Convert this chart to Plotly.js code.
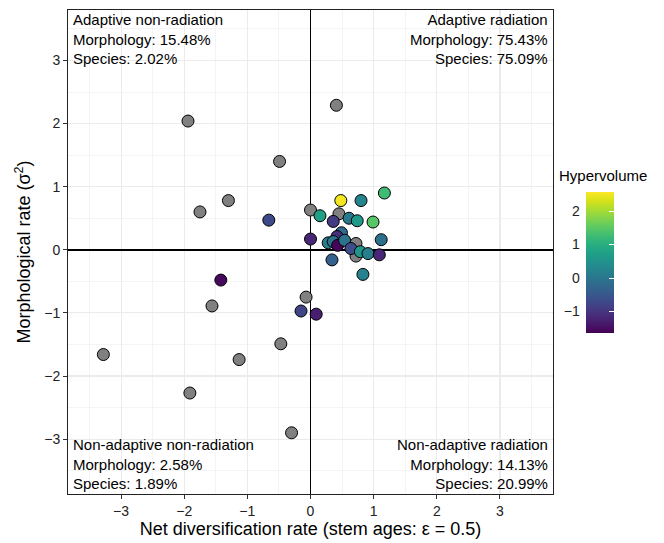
<!DOCTYPE html>
<html><head><meta charset="utf-8">
<script src="https://cdn.plot.ly/plotly-3.0.1.min.js"></script>
<style>html,body{margin:0;padding:0;background:#fff}</style>
</head><body><div id="chart" style="width:664px;height:543px"></div>
<script>
// Species without hypervolume (grey)
const grayX = [-1.94, 0.41, -0.49, -1.30, -1.75, 0.00, 0.45, 0.72, 0.72, -1.56, -0.07, -0.47, -1.13, -3.28, -1.91, -0.30];
const grayY = [2.04, 2.29, 1.40, 0.78, 0.60, 0.63, 0.57, 0.10, -0.10, -0.89, -0.75, -1.49, -1.74, -1.66, -2.27, -2.90];
// Species with hypervolume (coloured)
const colX = [0.48, 0.80, 1.17, -0.66, 0.00, 0.15, 0.36, 0.61, 0.74, 0.99, 1.12, 0.34, 0.83, 0.49, 0.42, 0.28, 0.36, 0.43, 0.54, 0.64, 0.79, 0.91, 1.09, -1.42, -0.15, 0.09];
const colY = [0.78, 0.78, 0.90, 0.47, 0.17, 0.54, 0.45, 0.50, 0.46, 0.44, 0.16, -0.16, -0.39, 0.27, 0.21, 0.11, 0.13, 0.07, 0.15, 0.02, -0.03, -0.06, -0.08, -0.48, -0.97, -1.02];
const colHV = [2.50, 0.25, 1.25, -0.72, -1.20, 0.70, -0.93, 0.05, 0.60, 1.45, -0.10, -0.35, 0.20, -0.20, -1.10, 0.15, -0.05, -1.60, -0.05, -0.65, 0.55, 0.15, -1.20, -1.55, -0.80, -1.30];

const axisTicks = [-3, -2, -1, 0, 1, 2, 3];
const cbTicks = [-1, 0, 1, 2];
const cbRange = [-1.65, 2.56];

const quadNames = ["Adaptive non-radiation", "Adaptive radiation", "Non-adaptive non-radiation", "Non-adaptive radiation"];
const quadMorph = ["15.48%", "75.43%", "2.58%", "14.13%"];
const quadSpecies = ["2.02%", "75.09%", "1.89%", "20.99%"];

const FONT = "Liberation Sans, Arial, Helvetica, sans-serif";
const W = 664, H = 543, ML = 68, MT = 10, MB = 49;
const plotW = W - ML;           // margin r = 0
const mainRight = 553;
const xDom = (mainRight - ML) / plotW;
const cbLeft = (585.7 - ML) / plotW;
const cbThick = 28;
const cbLenPx = 141;
const plotH = H - MT - MB;
const cbBottom = (494 - 333.3) / plotH;
const cbTop = cbBottom + cbLenPx / plotH;

const traces = [
  {
    type: 'scatter', mode: 'markers', x: grayX, y: grayY,
    marker: {size: 12, color: '#808080', line: {color: '#000', width: 1}},
    showlegend: false, hoverinfo: 'x+y'
  },
  {
    type: 'scatter', mode: 'markers', x: colX, y: colY,
    marker: {
      size: 12, color: colHV, colorscale: 'Viridis', cmin: cbRange[0], cmax: cbRange[1],
      line: {color: '#000', width: 1},
      showscale: true,
      colorbar: {
        x: cbLeft, xanchor: 'left', xpad: 0, thickness: cbThick,
        lenmode: 'pixels', len: cbLenPx, y: cbBottom, yanchor: 'bottom', ypad: 0,
        outlinewidth: 0, tickmode: 'array', tickvals: cbTicks,
        ticks: 'inside', ticklen: 5, tickcolor: '#fff', tickwidth: 1,
        showticklabels: false
      }
    },
    showlegend: false
  },
  {
    type: 'scatter', mode: 'markers', x: [null], y: [null], xaxis: 'x2', yaxis: 'y2',
    showlegend: false, hoverinfo: 'skip'
  }
];

const annotations = [];
quadNames.forEach((name, i) => {
  const right = (i % 2 === 1);
  const top = (i < 2);
  annotations.push({
    xref: 'x domain', yref: 'y domain',
    x: right ? 1 : 0, y: top ? 1 : 0,
    xanchor: right ? 'right' : 'left', yanchor: top ? 'top' : 'bottom',
    xshift: right ? -3 : 3, yshift: top ? 1 : 0,
    align: right ? 'right' : 'left', showarrow: false,
    text: name + '<br>Morphology: ' + quadMorph[i] + '<br>Species: ' + quadSpecies[i],
    font: {family: FONT, size: 15, color: '#000'}
  });
});
annotations.push({
  xref: 'paper', yref: 'paper', x: (556.5 - ML) / plotW, y: (494 - 176) / plotH,
  xanchor: 'left', yanchor: 'middle', showarrow: false,
  text: 'Hypervolume', font: {family: FONT, size: 15, color: '#000'}
});

const layout = {
  width: W, height: H,
  margin: {l: ML, r: 0, t: MT, b: MB, pad: 0},
  paper_bgcolor: '#fff', plot_bgcolor: '#fff',
  font: {family: FONT, color: '#000'},
  xaxis: {
    domain: [0, xDom], range: [-3.84, 3.84],
    tickmode: 'array', tickvals: axisTicks,
    ticks: 'outside', ticklen: 4, tickcolor: '#333', tickwidth: 1,
    tickfont: {family: FONT, size: 14, color: '#222'},
    showgrid: true, gridcolor: '#ebebeb', gridwidth: 1.1,
    minor: {dtick: 0.5, tick0: 0, showgrid: true, gridcolor: '#ececec', gridwidth: 0.6, ticks: ''},
    zeroline: true, zerolinecolor: '#000', zerolinewidth: 1.5,
    showline: true, linecolor: '#222', linewidth: 1, mirror: true,
    title: {text: 'Net diversification rate (stem ages: ε = 0.5)', font: {family: FONT, size: 18, color: '#000'}, standoff: 4}
  },
  yaxis: {
    range: [-3.87, 3.80],
    tickmode: 'array', tickvals: axisTicks,
    ticks: 'outside', ticklen: 4, tickcolor: '#333', tickwidth: 1,
    tickfont: {family: FONT, size: 14, color: '#222'},
    showgrid: true, gridcolor: '#ebebeb', gridwidth: 1.1,
    minor: {dtick: 0.5, tick0: 0, showgrid: true, gridcolor: '#ececec', gridwidth: 0.6, ticks: ''},
    zeroline: true, zerolinecolor: '#000', zerolinewidth: 1.5,
    showline: true, linecolor: '#222', linewidth: 1, mirror: true,
    title: {text: 'Morphological rate (σ<sup>2</sup>)', font: {family: FONT, size: 18, color: '#000'}, standoff: 8}
  },
  xaxis2: {domain: [cbLeft, cbLeft + cbThick / plotW], anchor: 'y2', visible: false, range: [0, 1]},
  yaxis2: {
    domain: [cbBottom, cbTop], anchor: 'free', position: cbLeft, side: 'left',
    range: cbRange, tickmode: 'array', tickvals: cbTicks,
    ticks: '', showgrid: false, zeroline: false, showline: false,
    ticklabelstandoff: 6,
    tickfont: {family: FONT, size: 14, color: '#222'}
  },
  annotations: annotations,
  showlegend: false
};

Plotly.newPlot('chart', traces, layout, {staticPlot: true, displayModeBar: false});
</script>
</body></html>
